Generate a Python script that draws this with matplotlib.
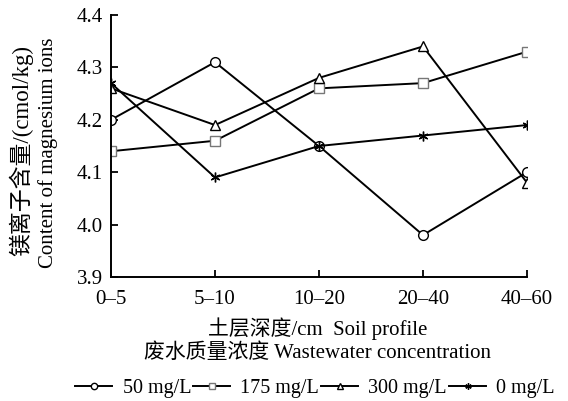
import numpy as np
import matplotlib.pyplot as plt

plt.rcParams['font.family'] = ['Liberation Serif', 'Noto Sans CJK SC']
plt.rcParams['axes.unicode_minus'] = False

depths = ['0\u20135', '5\u201310', '10\u201320', '20\u201340', '40\u201360']
mg50 = [4.20, 4.31, 4.15, 3.98, 4.10]
mg175 = [4.14, 4.16, 4.26, 4.27, 4.33]
mg300 = [4.26, 4.19, 4.28, 4.34, 4.08]
mg0 = [4.27, 4.09, 4.15, 4.17, 4.19]
yticks = [3.9, 4.0, 4.1, 4.2, 4.3, 4.4]

fig = plt.figure(figsize=(5.68, 4.01), dpi=100)
ax = fig.add_axes([111 / 568, 1 - 277 / 401, (527 - 111) / 568, (277 - 15) / 401])

x = np.arange(len(depths))
kw = dict(color='black', lw=1.4, ms=7, mfc='white', mew=1.0)
ax.plot(x, mg50, marker='o', label='50 mg/L', **kw)
ax.plot(x, mg175, marker='s', label='175 mg/L', mec='#777777', **kw)
ax.plot(x, mg300, marker='^', label='300 mg/L', **kw)
ax.plot(x, mg0, marker=(6, 2, 0), label='0 mg/L', **kw)

ax.set_xlim(0, 4)
ax.set_ylim(3.9, 4.4)
ax.set_xticks(x)
ax.set_xticklabels(depths)
ax.set_yticks(yticks)
ax.set_yticklabels(['%.1f' % v for v in yticks])
ax.tick_params(direction='in', length=5, width=1.3, labelsize=15)
ax.tick_params(axis='x', pad=9)
ax.tick_params(axis='y', pad=6)
ax.spines['top'].set_visible(False)
ax.spines['right'].set_visible(False)
for s in ['left', 'bottom']:
    ax.spines[s].set_linewidth(1.4)

# two-line y label (Chinese / English)
fig.text(21 / 568, 1 - 150 / 401, '镁离子含量/(cmol/kg)', rotation=90,
         ha='center', va='center', fontsize=16.5)
fig.text(48 / 568, 1 - 153 / 401, 'Content of magnesium ions', rotation=90,
         ha='center', va='center', fontsize=15)
fig.text(318 / 568, 1 - 329 / 401, '土层深度/cm  Soil profile',
         ha='center', va='center', fontsize=15)
fig.text(318 / 568, 1 - 353 / 401, '废水质量浓度 Wastewater concentration',
         ha='center', va='center', fontsize=15)

fig.legend(loc='center', bbox_to_anchor=(315 / 568, 1 - 388 / 401), ncol=4,
           frameon=False, fontsize=14.5, handlelength=1.85, handletextpad=0.5,
           columnspacing=0.1, markerscale=0.65, borderpad=0, borderaxespad=0)

fig.savefig('out.png', dpi=100)
